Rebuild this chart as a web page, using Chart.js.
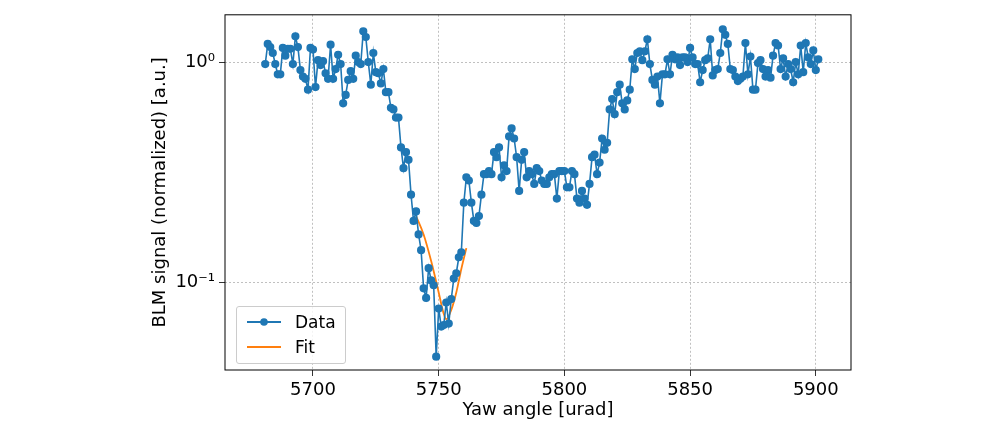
<!DOCTYPE html>
<html>
<head>
<meta charset="utf-8">
<script src="https://cdn.jsdelivr.net/npm/chart.js@4.4.1/dist/chart.umd.min.js"></script>
<style>
  body { margin: 0; background: #fff; }
  #wrap { position: relative; width: 998px; height: 437px; }
  #legend { position: absolute; left: 236px; top: 306px; width: 108px; height: 56px;
    border: 1px solid #ccc; border-radius: 3px; background: rgba(255,255,255,0.8);
    font-family: "DejaVu Sans", sans-serif; font-size: 17px; color: #000; }
  .row { position: absolute; left: 10px; height: 20px; display: flex; align-items: center; }
  .row span { margin-left: 14px; }
</style>
</head>
<body>
<div id="wrap">
  <canvas id="c" width="998" height="437"></canvas>
  <div id="legend">
    <div class="row" style="top:5px"><svg width="34" height="12"><line x1="0" y1="6" x2="34" y2="6" stroke="#1f77b4" stroke-width="1.8"/><circle cx="17" cy="6" r="3.8" fill="#1f77b4"/></svg><span>Data</span></div>
    <div class="row" style="top:30px"><svg width="34" height="12"><line x1="0" y1="6" x2="34" y2="6" stroke="#ff7f0e" stroke-width="1.8"/></svg><span>Fit</span></div>
  </div>
</div>
<script>
// scan: first angle and step [urad]
const xStart = 5681;
const xStep = 1;

const signal = [
  0.98, 1.21, 1.17, 1.10, 0.98, 0.88, 0.88, 1.16, 1.07, 1.15, 1.15, 0.98, 1.31, 1.17, 0.92, 0.86,
  0.84, 0.75, 1.16, 1.14, 0.77, 1.02, 0.97, 1.01, 0.89, 0.84, 1.20, 0.84, 0.93, 1.08, 0.98, 0.65,
  0.71, 0.83, 0.91, 0.84, 1.07, 1.00, 0.98, 1.38, 1.30, 1.00, 0.79, 1.10, 0.90, 0.89, 0.80, 0.93,
  0.73, 0.73,
  0.62, 0.61, 0.56, 0.56, 0.41, 0.33, 0.39, 0.36, 0.25, 0.19, 0.21, 0.165, 0.14, 0.094, 0.085, 0.116,
  0.102, 0.097, 0.046, 0.076, 0.063, 0.064, 0.081, 0.065, 0.084, 0.104, 0.11, 0.13, 0.137, 0.23,
  0.30, 0.29, 0.23, 0.19, 0.186, 0.20, 0.25, 0.31, 0.31, 0.32, 0.31, 0.39, 0.37, 0.41,
  0.30, 0.34, 0.32, 0.46, 0.50, 0.45, 0.37, 0.26, 0.36, 0.39, 0.30, 0.32, 0.31, 0.28, 0.33, 0.32,
  0.29, 0.28, 0.28, 0.30, 0.31, 0.31, 0.24, 0.32, 0.32, 0.32, 0.27, 0.27, 0.32, 0.31, 0.24, 0.23,
  0.26, 0.24, 0.225, 0.28, 0.37, 0.38, 0.31, 0.35,
  0.45, 0.40, 0.43, 0.61, 0.68, 0.58, 0.73, 0.79, 0.65, 0.61, 0.67, 0.75, 1.03, 0.93, 1.10, 1.12,
  1.02, 1.12, 1.27, 0.98, 0.83, 0.79, 0.86, 0.65, 0.88, 0.88, 1.03, 0.88, 1.08, 1.03, 1.05, 0.97,
  1.05, 1.05, 1.00, 1.16, 1.05, 0.98, 0.98, 0.81, 0.92, 1.02, 1.04, 1.27, 0.87, 0.92, 0.93, 1.10,
  1.41, 1.33, 1.21, 0.93, 0.92, 0.86, 0.82, 0.84, 0.86, 1.22, 0.88, 1.06, 0.75, 0.75, 0.99, 1.02,
  0.93, 0.86, 0.92, 0.85, 1.07, 1.22, 1.19, 0.93, 1.04, 0.86, 0.98, 0.93, 0.81, 1.00, 0.88, 1.19,
  0.90, 1.22, 1.05, 0.98, 1.13, 0.92, 1.03
];

const fitX = [5741, 5744, 5747, 5750, 5752, 5753, 5755, 5757, 5759, 5761];
const fitY = [0.20, 0.165, 0.125, 0.09, 0.072, 0.068, 0.075, 0.09, 0.115, 0.143];

const xTicks = [5700, 5750, 5800, 5850, 5900];
const yTicks = [0.1, 1];
const yTickLabels = { 0.1: '10\u207B\u00B9', 1: '10\u2070' };

const dataPts = signal.map((v, i) => ({ x: xStart + i * xStep, y: v }));
const fitPts = fitX.map((x, i) => ({ x: x, y: fitY[i] }));

const font = { family: 'DejaVu Sans', size: 18 };
const grid = { color: '#b0b0b0', lineWidth: 0.8, tickLength: 6, tickColor: '#000' };

const frame = {
  id: 'frame',
  afterDraw(chart) {
    const a = chart.chartArea, ctx = chart.ctx;
    ctx.save();
    ctx.strokeStyle = '#000';
    ctx.lineWidth = 1;
    ctx.strokeRect(a.left, a.top, a.right - a.left, a.bottom - a.top);
    ctx.restore();
  }
};

new Chart(document.getElementById('c'), {
  type: 'line',
  data: {
    datasets: [{
      label: 'Data',
      data: dataPts,
      borderColor: '#1f77b4',
      backgroundColor: '#1f77b4',
      borderWidth: 1.6,
      pointRadius: 3.3,
      pointHoverRadius: 3.3,
      tension: 0
    }, {
      label: 'Fit',
      data: fitPts,
      borderColor: '#ff7f0e',
      borderWidth: 1.8,
      pointRadius: 0,
      cubicInterpolationMode: 'monotone'
    }]
  },
  options: {
    responsive: false,
    animation: false,
    layout: { padding: { left: 150, right: 147, top: -2, bottom: 12 } },
    plugins: { legend: { display: false }, tooltip: { enabled: false } },
    scales: {
      x: {
        type: 'linear',
        min: 5665,
        max: 5914,
        afterBuildTicks: (s) => { s.ticks = xTicks.map(v => ({ value: v })); },
        afterFit: (s) => { s.height = 55; },
        ticks: { color: '#000', font: font, padding: 4, callback: (v) => String(v) },
        grid: { ...grid, borderDash: [2, 2] },
        border: { display: false, dash: [2, 2] },
        title: { display: true, text: 'Yaw angle [urad]', color: '#000', font: font, padding: { top: 0 } }
      },
      y: {
        type: 'logarithmic',
        min: 0.04,
        max: 1.64,
        afterBuildTicks: (s) => { s.ticks = yTicks.map(v => ({ value: v })); },
        afterFit: (s) => { s.width = 75; },
        ticks: { color: '#000', font: font, padding: 4, callback: (v) => yTickLabels[v] },
        grid: { ...grid },
        border: { display: false, dash: [2, 2] },
        title: { display: true, text: 'BLM signal (normalized) [a.u.]', color: '#000', font: font, padding: 0 }
      }
    }
  },
  plugins: [frame]
});
</script>
</body>
</html>
